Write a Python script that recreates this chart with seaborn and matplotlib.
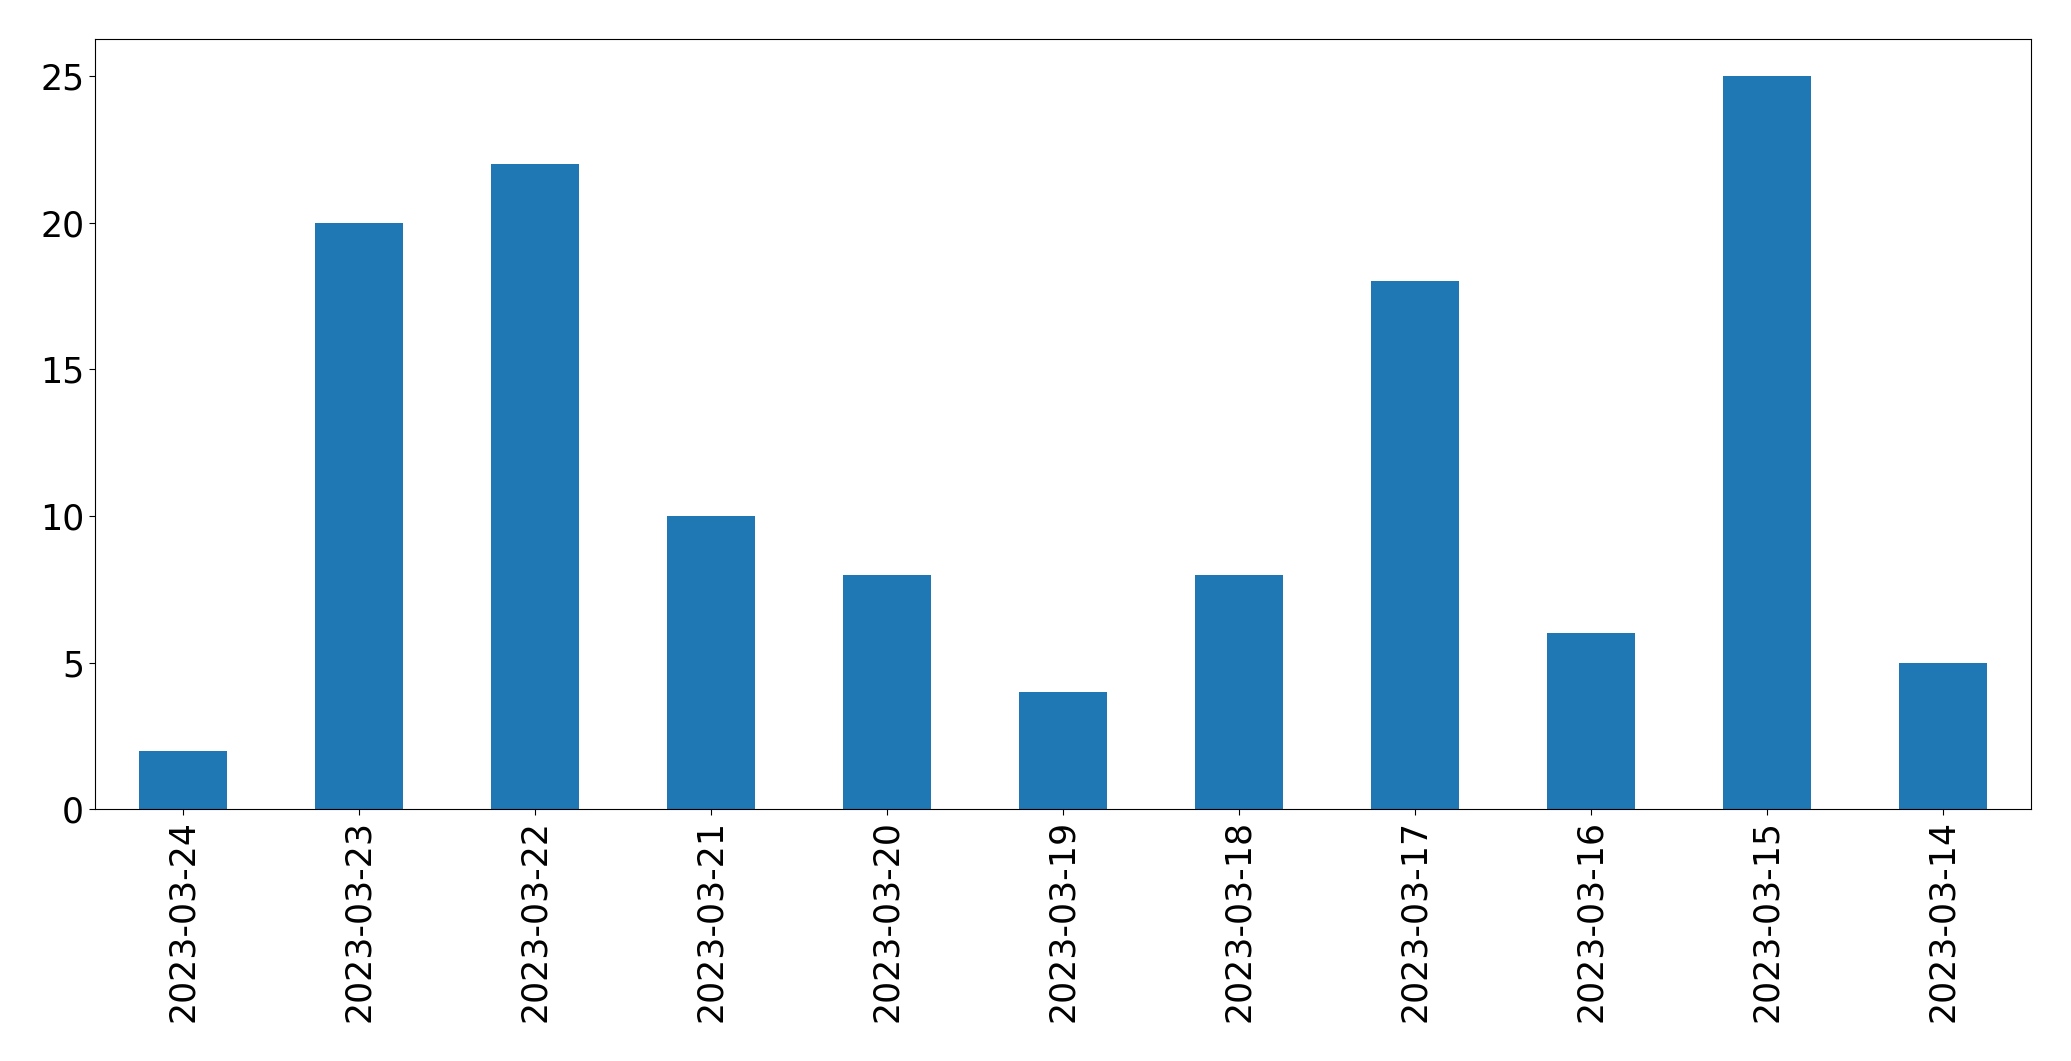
import matplotlib
matplotlib.use("Agg")
import matplotlib.pyplot as plt
import pandas as pd
import seaborn as sns

dates = ["2023-03-24", "2023-03-23", "2023-03-22", "2023-03-21", "2023-03-20",
         "2023-03-19", "2023-03-18", "2023-03-17", "2023-03-16", "2023-03-15",
         "2023-03-14"]
counts = [2, 20, 22, 10, 8, 4, 8, 18, 6, 25, 5]

df = pd.DataFrame({"date": dates, "count": counts})

fig = plt.figure(figsize=(20.71, 10.61), dpi=100)
ax = fig.add_axes([0.0459, 0.2372, 0.9348, 0.7258])

sns.barplot(data=df, x="date", y="count", order=dates, color="#1f77b4",
            saturation=1, width=0.5, ax=ax)

ax.set_xlim(-0.5, len(dates) - 0.5)
ax.set_ylim(0, 26.25)
ax.set_yticks([0, 5, 10, 15, 20, 25])
ax.set_xlabel("")
ax.set_ylabel("")
ax.tick_params(axis="both", labelsize=25, length=4.3)
ax.tick_params(axis="x", labelrotation=90)

fig.savefig("out.png", dpi=100)
